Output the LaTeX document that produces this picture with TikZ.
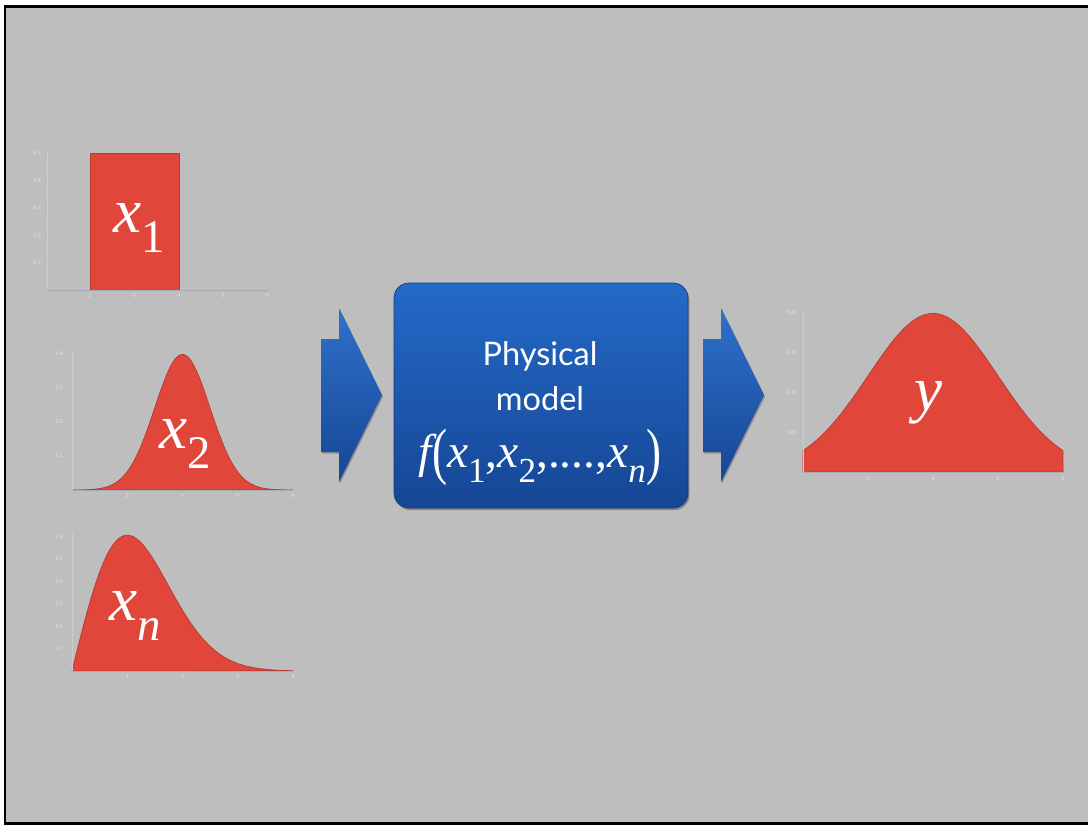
\documentclass[tikz,border=0pt]{standalone}
\usepackage{fontspec}
\setmainfont{Liberation Serif}
\setsansfont{Lato}
\newfontfamily\varfont{Liberation Serif}
\usepackage{tikz}
\usetikzlibrary{calc,shadows}
\definecolor{slidegray}{RGB}{190,190,190}
\definecolor{distred}{RGB}{225,70,58}
\definecolor{axisgray}{RGB}{168,170,186}
\definecolor{axislight}{RGB}{204,204,206}
\definecolor{tickwhite}{RGB}{232,232,232}
\definecolor{modeltop}{RGB}{36,106,200}
\definecolor{modelbot}{RGB}{22,70,148}
\tikzset{
  slide/.style={fill=slidegray, draw=black, line width=1.7pt},
  daxis/.style ={draw=axisgray, line width=0.4pt},
  dyaxis/.style={draw=axislight, line width=0.35pt},
  dtick/.style={font=\varfont\fontsize{3.2}{3.6}\selectfont, text=tickwhite, inner sep=0.6pt},
  dfill/.style={fill=distred, draw=distred!82!black, line width=0.4pt, line join=round},
  dlabel/.style={font=\varfont\fontsize{36}{40}\selectfont, text=white, inner sep=0pt,
                 anchor=base west},
  mbox/.style={rectangle, rounded corners=8.5pt, top color=modeltop,
               bottom color=modelbot, draw=modelbot!85!black, line width=0.4pt,
               minimum width=5.88cm, minimum height=4.5cm,
               drop shadow={shadow xshift=0.8pt, shadow yshift=-1.2pt,
                            fill=black, opacity=0.3}},
  mtext/.style={text=white, inner sep=0pt, anchor=base},
  barrow/.style={top color=modeltop!95!white, bottom color=modelbot,
                 drop shadow={shadow xshift=0.6pt, shadow yshift=-0.9pt,
                              fill=black, opacity=0.25}},
}
% italic variable with a lowered, smaller index
\newcommand{\dvar}[2]{{\varfont\itshape #1}\raisebox{-0.32em}{\scalebox{0.74}{\varfont #2}}}
\newcommand{\tallp}[1]{\raisebox{-0.12em}{\scalebox{0.95}[1.32]{\varfont #1}}}

\begin{document}
\begin{tikzpicture}[x=0.02cm, y=-0.02cm]
  \useasboundingbox (0,0) rectangle (1088,826);
  \clip (0,0) rectangle (1088,826);
  \fill[white] (0,0) rectangle (1088,826);
  \draw[slide] (5,6.5) rectangle (1100,823);

  % ---- x_1 : uniform on [2,4] ------------------------------------------
  \fill[dfill] (90,290) rectangle (179,153);
  \draw[dyaxis] (47,150) -- (47,290);
  \draw[daxis] (47,290) -- (268,290);
  \foreach \v [count=\i] in {0.1,0.2,0.3,0.4,0.5}
    \node[dtick, anchor=east] (ta\i) at (42,{290-274*\v}) {\v};
  \foreach \v in {2,...,6}
    \node[dtick, anchor=north] (tax\v) at ({45.5+44.4*(\v-1)},292) {\v};
  \node[dlabel] (lx1) at (113,232) {\dvar{x}{1}};

  % ---- x_2 : normal, mean 4 --------------------------------------------
  \fill[dfill] (72,490) -- plot[domain=0:8, samples=90, smooth]
    ({72+27.6*\x},{490-340*0.39894*exp(-0.5*(\x-4)*(\x-4))}) -- cycle;
  \draw[dyaxis] (72,352) -- (72,490);
  \draw[daxis] (72,490) -- (293,490);
  \foreach \v [count=\i] in {0.1,0.2,0.3,0.4}
    \node[dtick, anchor=east] (tb\i) at (64,{490-340*\v}) {\v};
  \foreach \v in {2,4,6,8}
    \node[dtick, anchor=north] (tbx\v) at ({72+27.6*\v},492) {\v};
  \node[dlabel] (lx2) at (159,448) {\dvar{x}{2}};

  % ---- x_n : skewed, peak at 1 -----------------------------------------
  \fill[dfill] (72,671) -- plot[domain=0:4, samples=90, smooth]
    ({72+55.3*\x},{671-224*\x*exp(-0.5*\x*\x)}) -- cycle;
  \draw[dyaxis] (72,533) -- (72,671);
  \draw[daxis] (72,671) -- (293,671);
  \foreach \v [count=\i] in {0.1,0.2,0.3,0.4,0.5,0.6}
    \node[dtick, anchor=east] (tc\i) at (64,{671-224*\v}) {\v};
  \foreach \v in {1,...,4}
    \node[dtick, anchor=north] (tcx\v) at ({72+55.3*\v},673) {\v};
  \node[dlabel] (lxn) at (109,620) {\dvar{x}{\itshape n}};

  % ---- the model and its two block arrows --------------------------------
  \foreach \ax/\nm in {321/ain, 703/aout}
    \path[barrow] (\ax,339) -- ++(18,0) -- ++(0,-31) -- ++(43,87)
                  -- ++(-43,87) -- ++(0,-30) -- ++(-18,0) -- cycle;
  \node[mbox] (model) at (541,395.5) {};
  \node[mtext, font=\sffamily\fontsize{18.5}{22}\selectfont] (mphys) at (540,365) {Physical};
  \node[mtext, font=\sffamily\fontsize{18.5}{22}\selectfont] (mmod)  at (540,410) {model};
  \node[mtext, font=\varfont\fontsize{27}{30}\selectfont] (mfx) at (540,467)
    {{\itshape f}\tallp{(}\dvar{x}{1},\dvar{x}{2},....,\dvar{x}{\itshape n}\tallp{)}};

  % ---- y : the output ----------------------------------------------------
  \fill[dfill] (803,472) -- plot[domain=0:8, samples=90, smooth]
    ({803+32.5*\x},{472-795*0.19947*exp(-0.125*(\x-4)*(\x-4))}) -- (1063,472) -- cycle;
  \draw[dyaxis] (803,311) -- (803,472);
  \draw[daxis] (803,472) -- (1063,472);
  \foreach \v [count=\i] in {0.05,0.10,0.15,0.20}
    \node[dtick, anchor=east] (td\i) at (798,{472-795*\v}) {\v};
  \foreach \v in {2,4,6,8}
    \node[dtick, anchor=north] (tdx\v) at ({803+32.5*\v},475) {\v};
  \node[dlabel] (ly) at (914,410) {{\itshape y}};
\end{tikzpicture}
\end{document}
